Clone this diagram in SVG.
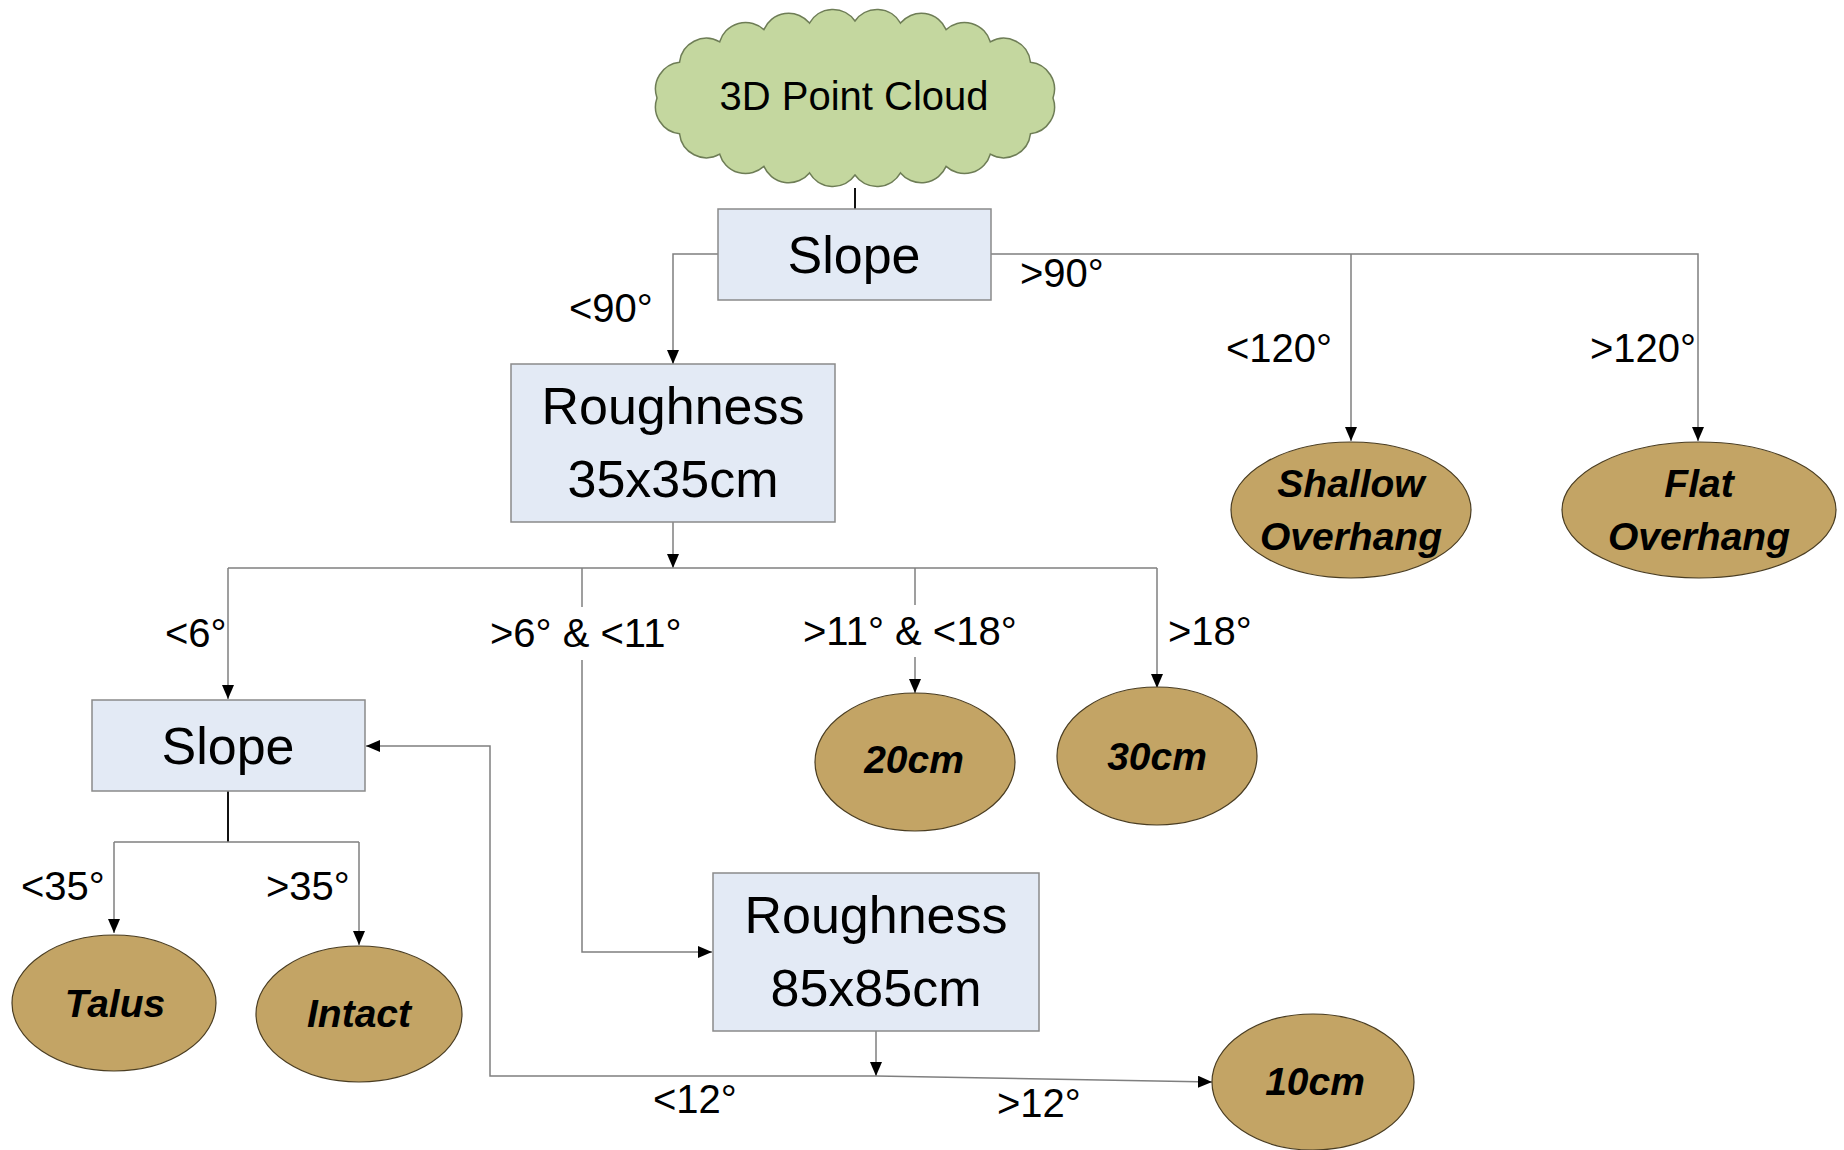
<svg xmlns="http://www.w3.org/2000/svg" width="1844" height="1150" viewBox="0 0 1844 1150">
<defs>
<marker id="arr" viewBox="0 0 14 12" refX="14" refY="6" markerWidth="14" markerHeight="12" orient="auto" markerUnits="userSpaceOnUse"><path d="M0,0 L14,6 L0,12 z" fill="#000"/></marker>
<style>
.box{fill:#e3eaf5;stroke:#8a8a8a;stroke-width:1.5}
.leaf{fill:#c3a465;stroke:#4a3d22;stroke-width:1.2}
.ln{fill:none;stroke:#7f7f7f;stroke-width:1.5}
.dk{fill:none;stroke:#111;stroke-width:2}
.nt{font-family:"Liberation Sans",Arial,sans-serif;font-size:52px;fill:#000;text-anchor:middle}
.lt{font-family:"Liberation Sans",Arial,sans-serif;font-size:39px;font-weight:bold;font-style:italic;fill:#000;text-anchor:middle}
.lb{font-family:"Liberation Sans",Arial,sans-serif;font-size:40px;fill:#000}
</style>
</defs>
<rect width="1844" height="1150" fill="#fff"/>
<g id="connectors">
<path class="dk" d="M855,188 V209"/>
<path class="ln" d="M718,254 H673 V364" marker-end="url(#arr)"/>
<path class="ln" d="M991,254 H1698 V441" marker-end="url(#arr)"/>
<path class="ln" d="M1351,254 V441" marker-end="url(#arr)"/>
<path class="ln" d="M673,522 V568" marker-end="url(#arr)"/>
<path class="ln" d="M228,568 H1157"/>
<path class="ln" d="M228,568 V699" marker-end="url(#arr)"/>
<path class="ln" d="M582,568 V607"/>
<path class="ln" d="M582,660 V952 H712" marker-end="url(#arr)"/>
<path class="ln" d="M915,568 V605"/>
<path class="ln" d="M915,657 V693" marker-end="url(#arr)"/>
<path class="ln" d="M1157,568 V688" marker-end="url(#arr)"/>
<path class="ln" d="M876,1031 V1076" marker-end="url(#arr)"/>
<path class="ln" d="M876,1076 H490 V746 H366" marker-end="url(#arr)"/>
<path class="ln" d="M876,1076 L1212,1082" marker-end="url(#arr)"/>
<path class="dk" d="M228,791 V842"/>
<path class="ln" d="M114,842 H359"/>
<path class="ln" d="M114,842 V933" marker-end="url(#arr)"/>
<path class="ln" d="M359,842 V945" marker-end="url(#arr)"/>
<text class="lb" x="569" y="322">&lt;90°</text>
<text class="lb" x="1020" y="287">&gt;90°</text>
<text class="lb" x="1226" y="362">&lt;120°</text>
<text class="lb" x="1590" y="362">&gt;120°</text>
<text class="lb" x="165" y="647">&lt;6°</text>
<text class="lb" x="490" y="647">&gt;6° &amp; &lt;11°</text>
<text class="lb" x="803" y="645">&gt;11° &amp; &lt;18°</text>
<text class="lb" x="1168" y="645">&gt;18°</text>
<text class="lb" x="21" y="900">&lt;35°</text>
<text class="lb" x="266" y="900">&gt;35°</text>
<text class="lb" x="653" y="1113">&lt;12°</text>
<text class="lb" x="997" y="1117">&gt;12°</text>
</g>
<g id="cloud">
<path d="M1053,98 A27,27 0 0 1 1030.5,133.7 A27,27 0 0 1 990.3,154.2 A27,27 0 0 1 946.1,166.4 A27,27 0 0 1 900.5,172.9 A27,27 0 0 1 855,175 A27,27 0 0 1 809.5,172.9 A27,27 0 0 1 763.9,166.4 A27,27 0 0 1 719.7,154.2 A27,27 0 0 1 679.5,133.7 A27,27 0 0 1 657,98 A27,27 0 0 1 679.5,62.3 A27,27 0 0 1 719.7,41.8 A27,27 0 0 1 763.9,29.6 A27,27 0 0 1 809.5,23.1 A27,27 0 0 1 855,21 A27,27 0 0 1 900.5,23.1 A27,27 0 0 1 946.1,29.6 A27,27 0 0 1 990.3,41.8 A27,27 0 0 1 1030.5,62.3 A27,27 0 0 1 1053,98 Z" fill="#c4d79f" stroke="#6e7d56" stroke-width="1.5"/>
<text x="854" y="110" font-family="Liberation Sans, Arial, sans-serif" font-size="40" text-anchor="middle" fill="#000">3D Point Cloud</text>
</g>
<g id="slope1"><rect class="box" x="718" y="209" width="273" height="91"/><text class="nt" x="854" y="273">Slope</text></g>
<g id="rough35"><rect class="box" x="511" y="364" width="324" height="158"/><text class="nt" x="673" y="424">Roughness</text><text class="nt" x="673" y="497">35x35cm</text></g>
<g id="shallow"><ellipse class="leaf" cx="1351" cy="510" rx="120" ry="68"/><text class="lt" x="1351" y="497">Shallow</text><text class="lt" x="1351" y="550">Overhang</text></g>
<g id="flat"><ellipse class="leaf" cx="1699" cy="510" rx="137" ry="68"/><text class="lt" x="1699" y="497">Flat</text><text class="lt" x="1699" y="550">Overhang</text></g>
<g id="slope2"><rect class="box" x="92" y="700" width="273" height="91"/><text class="nt" x="228" y="764">Slope</text></g>
<g id="cm20"><ellipse class="leaf" cx="915" cy="762" rx="100" ry="69"/><text class="lt" x="914" y="773">20cm</text></g>
<g id="cm30"><ellipse class="leaf" cx="1157" cy="756" rx="100" ry="69"/><text class="lt" x="1157" y="770">30cm</text></g>
<g id="rough85"><rect class="box" x="713" y="873" width="326" height="158"/><text class="nt" x="876" y="933">Roughness</text><text class="nt" x="876" y="1006">85x85cm</text></g>
<g id="talus"><ellipse class="leaf" cx="114" cy="1003" rx="102" ry="68"/><text class="lt" x="115" y="1017">Talus</text></g>
<g id="intact"><ellipse class="leaf" cx="359" cy="1014" rx="103" ry="68"/><text class="lt" x="359" y="1027">Intact</text></g>
<g id="cm10"><ellipse class="leaf" cx="1313" cy="1082" rx="101" ry="68"/><text class="lt" x="1315" y="1095">10cm</text></g>
</svg>
